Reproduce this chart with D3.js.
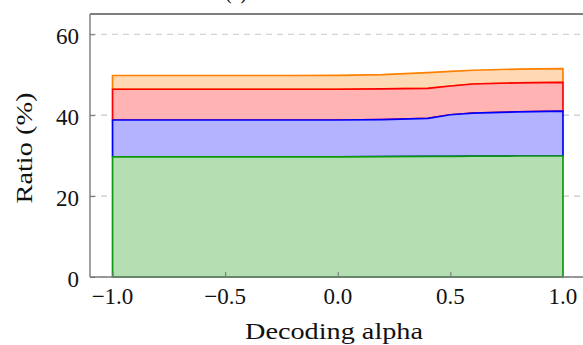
<!DOCTYPE html>
<html><head><meta charset="utf-8">
<script src="https://cdn.jsdelivr.net/npm/d3@7"></script>
<style>body{margin:0;background:#fff}svg{display:block}</style>
</head><body>
<svg id="c" width="583" height="345"></svg>
<script>
const alphas = [-1, -0.8, -0.6, -0.4, -0.2, 0, 0.2, 0.4, 0.5, 0.6, 0.8, 1.0];
const greenVals  = [29.7, 29.7, 29.7, 29.7, 29.7, 29.7, 29.75, 29.8, 29.8, 29.85, 29.9, 29.9];
const blueVals   = [9.1, 9.1, 9.1, 9.1, 9.1, 9.1, 9.15, 9.4, 10.3, 10.65, 10.9, 11.1];
const redVals    = [7.6, 7.6, 7.6, 7.6, 7.6, 7.6, 7.6, 7.4, 7.1, 7.2, 7.2, 7.1];
const orangeVals = [3.4, 3.4, 3.4, 3.4, 3.4, 3.45, 3.5, 3.9, 3.6, 3.4, 3.4, 3.4];
const seriesKeys = ["green", "blue", "red", "orange"];
const xTicks = [-1, -0.5, 0, 0.5, 1];
const yTicks = [0, 20, 40, 60];
const strokeColors = {green: "#0e980e", blue: "#0000ff", red: "#ff0000", orange: "#ff8000"};
const fillColors = {green: "#b3dfb3", blue: "#b3b3ff", red: "#ffb3b3", orange: "#ffd9b3"};

const rows = alphas.map((a, i) => ({alpha: a, green: greenVals[i], blue: blueVals[i], red: redVals[i], orange: orangeVals[i]}));
const stacked = d3.stack().keys(seriesKeys)(rows);

const svg = d3.select("#c");
const L = 90, R = 585.5, T = 14, B = 277;
const x = d3.scaleLinear().domain([-1.1, 1.1]).range([L, R]);
const y = d3.scaleLinear().domain([0, 65]).range([B, T]);
const font = "'Liberation Serif', 'DejaVu Serif', serif";

// title (cut off at top, as in the reference)
svg.append("text").attr("x", 236).attr("y", -1).attr("text-anchor", "middle")
  .attr("font-family", font).attr("font-size", 20).text("(a)");

// grid
svg.append("g").selectAll("line").data(yTicks).join("line")
  .attr("x1", L).attr("x2", R).attr("y1", d => y(d)).attr("y2", d => y(d))
  .attr("stroke", "#c8c8c8").attr("stroke-width", 1.1).attr("stroke-dasharray", "6,5");

// areas (top layers first so lower outlines stay visible)
const area = d3.area().x(d => x(d.data.alpha)).y0(d => y(d[0])).y1(d => y(d[1]));
svg.append("g").selectAll("path").data(stacked.slice().reverse()).join("path")
  .attr("d", area)
  .attr("fill", d => fillColors[d.key])
  .attr("stroke", d => strokeColors[d.key])
  .attr("stroke-width", 1.7)
  .attr("stroke-linejoin", "round");

// axes frame
svg.append("line").attr("x1", L).attr("x2", R).attr("y1", T).attr("y2", T).attr("stroke", "#000").attr("stroke-width", 1.1);
svg.append("line").attr("x1", L).attr("x2", L).attr("y1", T).attr("y2", B).attr("stroke", "#7a7a7a").attr("stroke-width", 1.4);
svg.append("line").attr("x1", L).attr("x2", R).attr("y1", B).attr("y2", B).attr("stroke", "#7a7a7a").attr("stroke-width", 1.4);

// y axis
const yAx = svg.append("g").attr("transform", `translate(${L},0)`)
  .call(d3.axisRight(y).tickValues(yTicks).tickSize(5).tickFormat(""));
yAx.select(".domain").remove();
yAx.selectAll("line").attr("stroke", "#7a7a7a").attr("stroke-width", 1.1);
svg.append("g").selectAll("text").data(yTicks).join("text")
  .attr("x", L - 11).attr("y", d => y(d)).attr("dy", "0.42em").attr("text-anchor", "end")
  .attr("font-family", font).attr("font-size", 23).attr("fill", "#111").text(d => d);

// x axis
const xAx = svg.append("g").attr("transform", `translate(0,${B})`)
  .call(d3.axisTop(x).tickValues(xTicks).tickSize(5).tickFormat(""));
xAx.select(".domain").remove();
xAx.selectAll("line").attr("stroke", "#7a7a7a").attr("stroke-width", 1.1);
const fmt = d3.format(".1f");
svg.append("g").selectAll("text").data(xTicks).join("text")
  .attr("x", d => x(d)).attr("y", B + 27).attr("text-anchor", "middle")
  .attr("font-family", font).attr("font-size", 23).attr("fill", "#111")
  .text(d => fmt(d).replace("-", "\u2212"));

// axis labels
svg.append("text").attr("x", 334).attr("y", 339).attr("text-anchor", "middle")
  .attr("font-family", font).attr("font-size", 24).attr("fill", "#111")
  .attr("textLength", 178).attr("lengthAdjust", "spacingAndGlyphs").text("Decoding alpha");
svg.append("text").attr("transform", `translate(32,148) rotate(-90)`).attr("text-anchor", "middle")
  .attr("font-family", font).attr("font-size", 24).attr("fill", "#111")
  .attr("textLength", 111).attr("lengthAdjust", "spacingAndGlyphs").text("Ratio (%)");
</script>
</body></html>
